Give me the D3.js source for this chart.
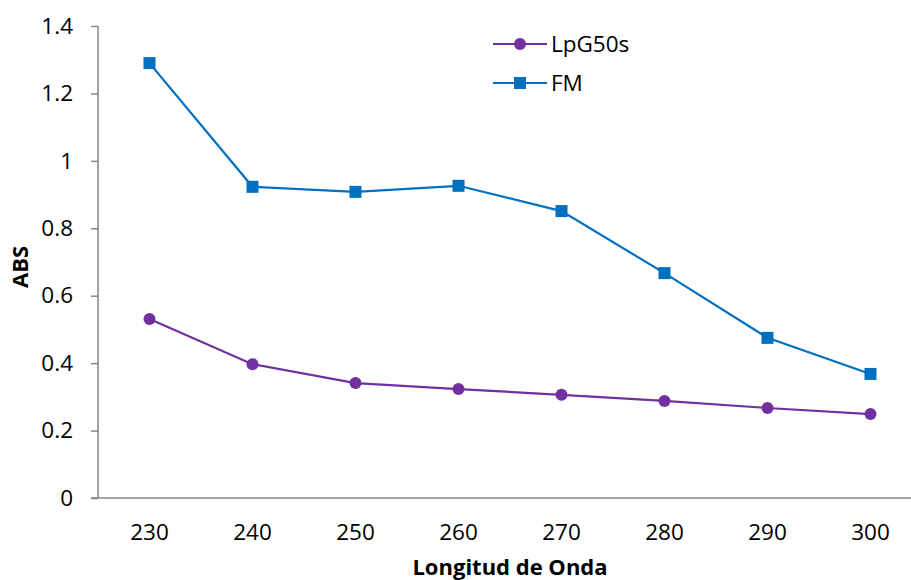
<!DOCTYPE html>
<html>
<head>
<meta charset="utf-8">
<script src="https://cdn.jsdelivr.net/npm/d3@7"></script>
<style>
  body { margin: 0; background: #fff; }
  svg text { font-family: "Open Sans", "Noto Sans", sans-serif; fill: #000; }
</style>
</head>
<body>
<div id="chart"></div>
<script>
// wavelengths and absorbance
var categories = ["230", "240", "250", "260", "270", "280", "290", "300"];
var lpgValues = [0.531, 0.397, 0.341, 0.323, 0.306, 0.288, 0.267, 0.249];
var fmValues = [1.290, 0.923, 0.908, 0.926, 0.851, 0.667, 0.475, 0.368];
var yTicks = [0, 0.2, 0.4, 0.6, 0.8, 1, 1.2, 1.4];

var series = [
    { name: "LpG50s", values: lpgValues, color: "#7030A0", shape: "circle" },
    { name: "FM", values: fmValues, color: "#0070C0", shape: "square" }
];

var width = 911, height = 580;

var svg = d3.select('#chart')
    .append('svg')
    .attr('width', width)
    .attr('height', height)

var x = d3.scaleBand()
    .domain(categories)
    .range([98, 922])

var y = d3.scaleLinear()
    .domain([0, 1.4])
    .range([498, 26])

// y axis
var yAxisG = svg.append('g')
    .attr('transform', 'translate(98,0)')
    .call(d3.axisLeft(y).tickValues(yTicks).tickSize(7).tickPadding(18)
        .tickFormat(function(d) { return d3.format('')(+d.toFixed(1)) }))
yAxisG.selectAll('line').attr('stroke', '#868686').attr('stroke-width', 1.5)
yAxisG.select('.domain').attr('stroke', '#868686').attr('stroke-width', 1.5)
    .attr('d', 'M0,26V498')
yAxisG.selectAll('text').style('font-size', '22.5px')

// x axis
var xAxisG = svg.append('g')
    .attr('transform', 'translate(0,498)')
    .call(d3.axisBottom(x).tickSize(0).tickPadding(26))
xAxisG.select('.domain').attr('stroke', '#868686').attr('stroke-width', 1.5)
    .attr('d', 'M91,0H922')
xAxisG.selectAll('text').style('font-size', '22.5px')

// axis titles
svg.append('text')
    .attr('x', 510)
    .attr('y', 575)
    .attr('text-anchor', 'middle')
    .style('font-size', '22px')
    .style('font-weight', 'bold')
    .text('Longitud de Onda')

svg.append('text')
    .attr('transform', 'translate(28,267) rotate(-90)')
    .attr('text-anchor', 'middle')
    .style('font-size', '22px')
    .style('font-weight', 'bold')
    .text('ABS')

var line = d3.line()
    .x(function(d, i) { return x(categories[i]) + x.bandwidth() / 2 })
    .y(function(d) { return y(d) })

function drawMarker(g, shape, color, cx, cy) {
    if (shape === 'circle') {
        g.append('circle').attr('cx', cx).attr('cy', cy).attr('r', 6).attr('fill', color)
    } else {
        g.append('rect').attr('x', cx - 6).attr('y', cy - 6)
            .attr('width', 12).attr('height', 12).attr('fill', color)
    }
}

series.forEach(function(s, k) {
    var g = svg.append('g')
    g.append('path')
        .datum(s.values)
        .attr('fill', 'none')
        .attr('stroke', s.color)
        .attr('stroke-width', 2.2)
        .attr('d', line)
    s.values.forEach(function(v, i) {
        drawMarker(g, s.shape, s.color, x(categories[i]) + x.bandwidth() / 2, y(v))
    })

    // legend
    var ly = 44 + k * 39
    var lg = svg.append('g')
    lg.append('line')
        .attr('x1', 493).attr('x2', 547)
        .attr('y1', ly).attr('y2', ly)
        .attr('stroke', s.color).attr('stroke-width', 2.2)
    drawMarker(lg, s.shape, s.color, 520, ly)
    lg.append('text')
        .attr('x', 551)
        .attr('y', ly + 8)
        .style('font-size', '22.5px')
        .text(s.name)
})
</script>
</body>
</html>
